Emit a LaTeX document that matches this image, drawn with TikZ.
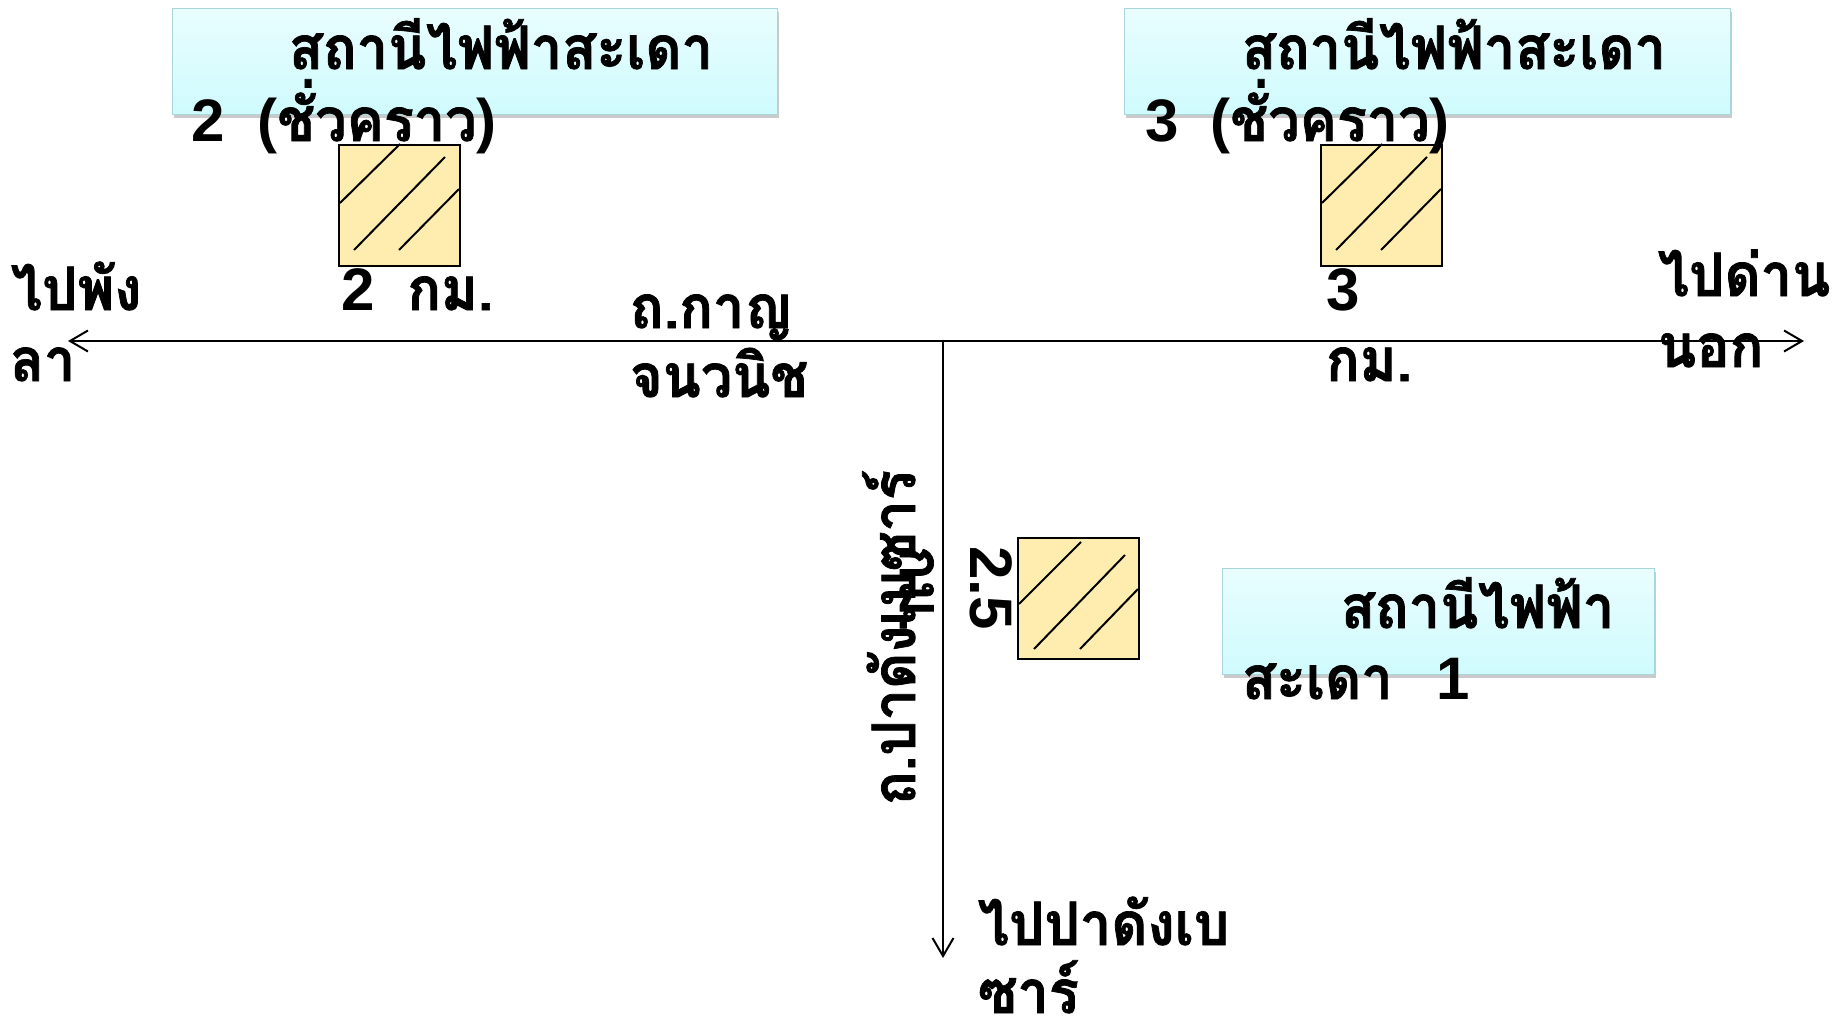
\documentclass[tikz,border=0pt]{standalone}
\usepackage{fontspec}
\newfontfamily\thaifont[Script=Thai,FakeStretch=0.93,BoldFeatures={FakeBold=1.2}]{Loma}
\newfontfamily\digitfont{Liberation Sans}
\usetikzlibrary{shadows,arrows.meta}
\definecolor{boxtop}{HTML}{E9FDFE}
\definecolor{boxbot}{HTML}{CFFBFD}
\definecolor{boxline}{HTML}{A9D6DA}
\definecolor{sitefill}{HTML}{FFEDB0}
\tikzset{
  infobox/.style={draw=boxline,line width=1.2pt,top color=boxtop,bottom color=boxbot,
    minimum width=#1,minimum height=106pt,inner sep=0pt,anchor=north west,
    drop shadow={shadow xshift=1pt,shadow yshift=-3pt,opacity=.35,fill=black!60}},
  sitebox/.style={draw=black,line width=2pt,fill=sitefill,minimum width=121pt,
    minimum height=121pt,inner sep=0pt,anchor=north west},
  hatch/.style={draw=black,line width=2pt},
  road/.style={draw=black,line width=2pt},
  lbl/.style={inner sep=0pt,outer sep=0pt,anchor=base west,
    font=\fontsize{60}{62}\selectfont\bfseries\thaifont},
  opentip/.style={-{Straight Barb[length=18pt,width=21pt,line width=2pt]}},
}
\newcommand{\dg}[1]{{\digitfont\fontsize{60}{62}\selectfont #1}}
\begin{document}
\begin{tikzpicture}[x=1pt,y=-1pt]
\useasboundingbox (0,0) rectangle (1843,1020);
\node[infobox=605pt] (boxB) at (172,8) {};
\node[infobox=606pt] (boxC) at (1124,8) {};
\node[infobox=432pt] (boxA) at (1222,568) {};

\coordinate (roadW) at (68,341);
\coordinate (roadE) at (1804,341);
\coordinate (junction) at (943,341);
\coordinate (roadS) at (943,958);
\draw[road,opentip] (junction) -- (roadW);
\draw[road,opentip] (junction) -- (roadE);
\draw[road,opentip] (junction) -- (roadS);

\node[sitebox] (siteB) at (338,144) {};
\node[sitebox] (siteC) at (1320,144) {};
\node[sitebox] (siteA) at (1017,537) {};
\foreach \s in {siteB,siteC}{
  \draw[hatch] ([shift={(2,59)}]\s.north west) -- ([shift={(62,0)}]\s.north west);
  \draw[hatch] ([shift={(16,106)}]\s.north west) -- ([shift={(107,13)}]\s.north west);
  \draw[hatch] ([shift={(61,106)}]\s.north west) -- ([shift={(121,45)}]\s.north west);
}
\draw[hatch] ([shift={(2,67)}]siteA.north west) -- ([shift={(64,5)}]siteA.north west);
\draw[hatch] ([shift={(17,112)}]siteA.north west) -- ([shift={(108,18)}]siteA.north west);
\draw[hatch] ([shift={(63,112)}]siteA.north west) -- ([shift={(121,52)}]siteA.north west);

\node[lbl] (tB1) at (289,69) {สถานีไฟฟ้าสะเดา};
\node[lbl] (tB2) at (191,141) {\dg{2}\hspace{33pt}\dg{(}ชั่วคราว\dg{)}};
\node[lbl] (tC1) at (1242,69) {สถานีไฟฟ้าสะเดา};
\node[lbl] (tC2) at (1145,141) {\dg{3}\hspace{32pt}\dg{(}ชั่วคราว\dg{)}};
\node[lbl] (tA1) at (1341,628) {สถานีไฟฟ้า};
\node[lbl] (tA2) at (1242,699) {สะเดา\hspace{44pt}\dg{1}};
\node[lbl] (w1) at (11,310) {ไปพัง};
\node[lbl] (w2) at (10,381) {ลา};
\node[lbl] (dB) at (341,310) {\dg{2}\hspace{33pt}กม.};
\node[lbl] (r1) at (630,328) {ถ.กาญ};
\node[lbl] (r2) at (630,397) {จนวนิช};
\node[lbl] (dC1) at (1326,310) {\dg{3}};
\node[lbl] (dC2) at (1326,381) {กม.};
\node[lbl] (e1) at (1658,296) {ไปด่าน};
\node[lbl] (e2) at (1658,367) {นอก};
\node[lbl] (s1) at (978,945) {ไปปาดังเบ};
\node[lbl] (s2) at (978,1013) {ซาร์};
\node[lbl,rotate=90] (rS) at (915,805) {ถ.ปาดังเบซาร์};
\node[lbl,rotate=-90] (dA1) at (970,546) {\dg{2.5}};
\node[lbl,rotate=-90] (dA2) at (900,546) {กม.};
\end{tikzpicture}
\end{document}
